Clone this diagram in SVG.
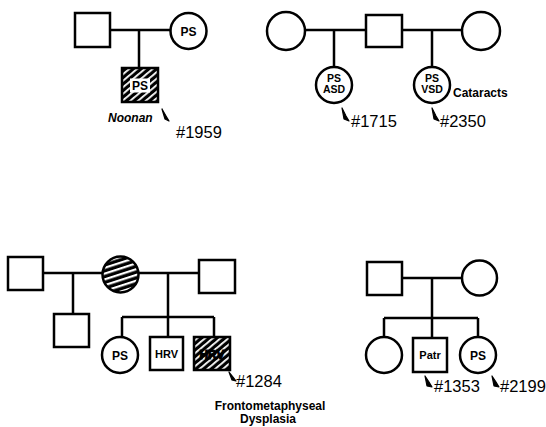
<svg xmlns="http://www.w3.org/2000/svg" width="546" height="427" viewBox="0 0 546 427">
<defs>
<pattern id="hsq" patternUnits="userSpaceOnUse" width="5" height="5" patternTransform="rotate(-40)">
<rect width="5" height="5" fill="#000"/><rect y="0" width="5" height="1.8" fill="#fff"/>
</pattern>
<pattern id="hci" patternUnits="userSpaceOnUse" width="5.5" height="5.5" patternTransform="rotate(-18)">
<rect width="5.5" height="5.5" fill="#000"/><rect y="0" width="5.5" height="2.2" fill="#fff"/>
</pattern>
</defs>
<style>
.s{fill:#fff;stroke:#000;stroke-width:2.5}
.hs{fill:url(#hsq);stroke:#000;stroke-width:2.5}
.hc{fill:url(#hci);stroke:#000;stroke-width:2.5}
.l{fill:none;stroke:#000;stroke-width:2.5}
.t{font-family:"Liberation Sans",Arial,sans-serif;font-weight:bold;fill:#000;text-anchor:middle}
.n{font-family:"Liberation Sans",Arial,sans-serif;fill:#000;font-size:16.5px}
.lb{font-family:"Liberation Sans",Arial,sans-serif;font-weight:bold;fill:#000;font-size:12px}
.ar{fill:#000;stroke:#000;stroke-width:1.2;stroke-linejoin:round}
</style>
<g id="connectors">
<path class="l" d="M110 30H170M139 30V68"/>
<path class="l" d="M305 30H366M402 30H462M334 30V67M432 30V67"/>
<path class="l" d="M43 273H102M139 273H199M73 273V314M168 273V317M122 317H214M122 317V337M168 317V337M214 317V337"/>
<path class="l" d="M402 278H462M432 278V318M384 318H478M384 318V337M432 318V338M478 318V337"/>
</g>
<g id="f1-father"><rect class="s" x="75" y="13" width="35" height="34"/></g>
<g id="f1-mother"><circle class="s" cx="188.5" cy="31" r="18"/><text class="t" x="188.5" y="35.5" font-size="12">PS</text></g>
<g id="f1-child"><rect class="hs" x="122" y="68" width="36" height="34"/><rect x="130" y="78.5" width="20" height="14" fill="#fff"/><text class="t" x="140" y="90" font-size="12">PS</text></g>
<g id="f1-labels">
<text class="lb" x="108" y="122" font-style="italic" font-size="12.5">Noonan</text>
<path class="ar" d="M162 109L165 119L169 121L166 116Z"/>
<text class="n" x="176" y="138">#1959</text>
</g>
<g id="f2-mother1"><circle class="s" cx="286" cy="31" r="19"/></g>
<g id="f2-father"><rect class="s" x="366" y="15" width="36" height="32"/></g>
<g id="f2-mother2"><circle class="s" cx="481" cy="31" r="19"/></g>
<g id="f2-child1"><circle class="s" cx="334" cy="85" r="18"/><text class="t" x="334" y="82" font-size="10.5">PS</text><text class="t" x="334" y="93" font-size="10.5">ASD</text></g>
<g id="f2-child2"><circle class="s" cx="432" cy="85" r="18"/><text class="t" x="432" y="82" font-size="10.5">PS</text><text class="t" x="432" y="93" font-size="10.5">VSD</text></g>
<g id="f2-labels">
<text class="lb" x="453" y="97">Cataracts</text>
<path class="ar" d="M342 108L344 119L349 121L346 116Z"/>
<text class="n" x="351" y="127">#1715</text>
<path class="ar" d="M432 108L434 119L439 121L436 116Z"/>
<text class="n" x="440" y="127">#2350</text>
</g>
<g id="f3-husband1"><rect class="s" x="8" y="257" width="35" height="33"/></g>
<g id="f3-mother"><circle class="hc" cx="120.5" cy="274.5" r="18"/></g>
<g id="f3-husband2"><rect class="s" x="199" y="260" width="36" height="33"/></g>
<g id="f3-child1"><rect class="s" x="54" y="314" width="35" height="33"/></g>
<g id="f3-child2"><circle class="s" cx="120" cy="355" r="18"/><text class="t" x="120" y="359.5" font-size="12">PS</text></g>
<g id="f3-child3"><rect class="s" x="150" y="337" width="33" height="33"/><text class="t" x="166.5" y="358" font-size="11">HRV</text></g>
<g id="f3-child4"><rect class="hs" x="194" y="337" width="36" height="33"/><text class="t" x="212" y="358.5" font-size="12" fill="#fff" stroke="#000" stroke-width="1">HRV</text></g>
<g id="f3-labels">
<path class="ar" d="M229 372L232 380L236 381L233 377Z"/>
<text class="n" x="236" y="387">#1284</text>
<text class="lb" x="270" y="410" text-anchor="middle" font-size="10.5">Frontometaphyseal</text>
<text class="lb" x="268" y="423" text-anchor="middle" font-size="10.5">Dysplasia</text>
</g>
<g id="f4-father"><rect class="s" x="367" y="262" width="35" height="33"/></g>
<g id="f4-mother"><circle class="s" cx="479.5" cy="278" r="17.5"/></g>
<g id="f4-child1"><circle class="s" cx="384" cy="355" r="18"/></g>
<g id="f4-child2"><rect class="s" x="413" y="338" width="34" height="34"/><text class="t" x="430" y="359" font-size="11">Patr</text></g>
<g id="f4-child3"><circle class="s" cx="478" cy="355" r="18"/><text class="t" x="478" y="359.5" font-size="12">PS</text></g>
<g id="f4-labels">
<path class="ar" d="M425 376L427 386L432 387L429 382Z"/>
<text class="n" x="434" y="392">#1353</text>
<path class="ar" d="M492 376L494 386L499 387L496 382Z"/>
<text class="n" x="500" y="392" font-size="15.5">#2199</text>
</g>
</svg>
